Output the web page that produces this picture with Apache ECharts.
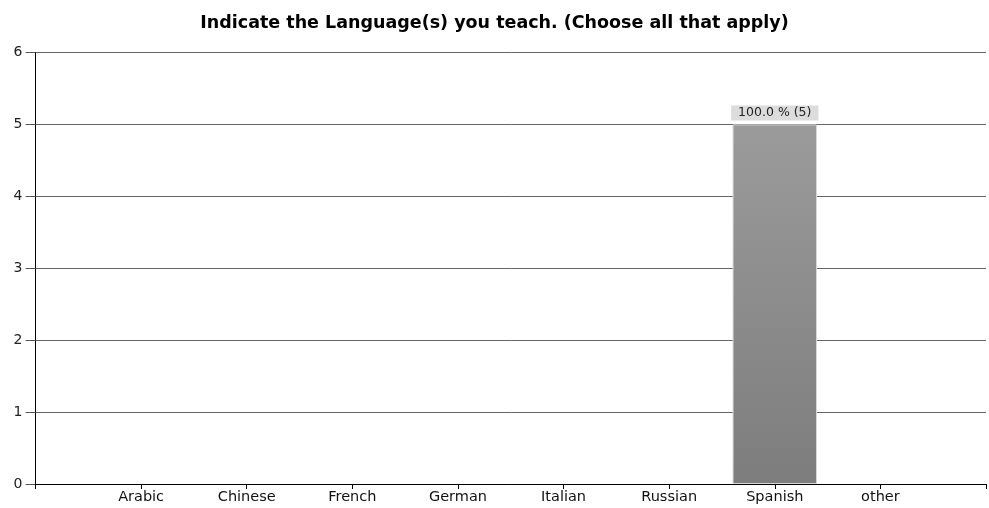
<!DOCTYPE html>
<html><head><meta charset="utf-8">
<script src="https://cdn.jsdelivr.net/npm/echarts@6/dist/echarts.min.js"></script>
<style>html,body{margin:0;padding:0;background:#fff}#c{width:989px;height:508px}</style>
</head><body><div id="c"></div>
<script>
const title = 'Indicate the Language(s) you teach. (Choose all that apply)';
const categories = ['Arabic','Chinese','French','German','Italian','Russian','Spanish','other'];
const counts = [0,0,0,0,0,0,5,0];
const percents = [0,0,0,0,0,0,100.0,0];
const yTicks = [0,1,2,3,4,5,6];

const axisCats = [''].concat(categories, ['']);
const seriesData = [null].concat(counts.map((v,i)=>({value: v>0?v:null, pct: percents[i]})), [null]);

const chart = echarts.init(document.getElementById('c'));
chart.setOption({
  animation:false,
  title:{text:title,left:'center',top:9,textStyle:{fontFamily:'DejaVu Sans',fontSize:17.5,fontWeight:'bold',color:'#000'}},
  grid:{left:35.5,right:0.5,top:52.5,bottom:24,containLabel:false},
  xAxis:{type:'category',data:axisCats,boundaryGap:false,
    axisLine:{lineStyle:{color:'#000',width:1}},
    axisTick:{show:true,length:5,lineStyle:{color:'#000'},interval:0},
    axisLabel:{interval:0,color:'#111',fontFamily:'DejaVu Sans',fontSize:14.5,margin:6},
    splitLine:{show:false}},
  yAxis:{type:'value',min:yTicks[0],max:yTicks[yTicks.length-1],interval:1,
    axisLine:{show:true,lineStyle:{color:'#000'}},
    axisTick:{show:true,length:10,lineStyle:{color:'#555'}},
    axisLabel:{color:'#222',fontFamily:'DejaVu Sans',fontSize:14,margin:13},
    splitLine:{show:true,lineStyle:{color:'#666',width:1}}},
  series:[{type:'bar',data:seriesData,barWidth:'80%',
    itemStyle:{color:new echarts.graphic.LinearGradient(0,0,0,1,[{offset:0,color:'#9b9b9b'},{offset:1,color:'#7d7d7d'}]),
      borderColor:'#d8d8d8',borderWidth:1},
    label:{show:true,position:'top',distance:4,
      formatter:p=>p.data&&p.data.pct!=null?p.data.pct.toFixed(1)+' % ('+p.value+')':'',
      backgroundColor:'#dcdcdc',padding:[1,7,1,7],lineHeight:13,color:'#222',fontFamily:'DejaVu Sans',fontSize:12.5}}]
});
</script></body></html>
